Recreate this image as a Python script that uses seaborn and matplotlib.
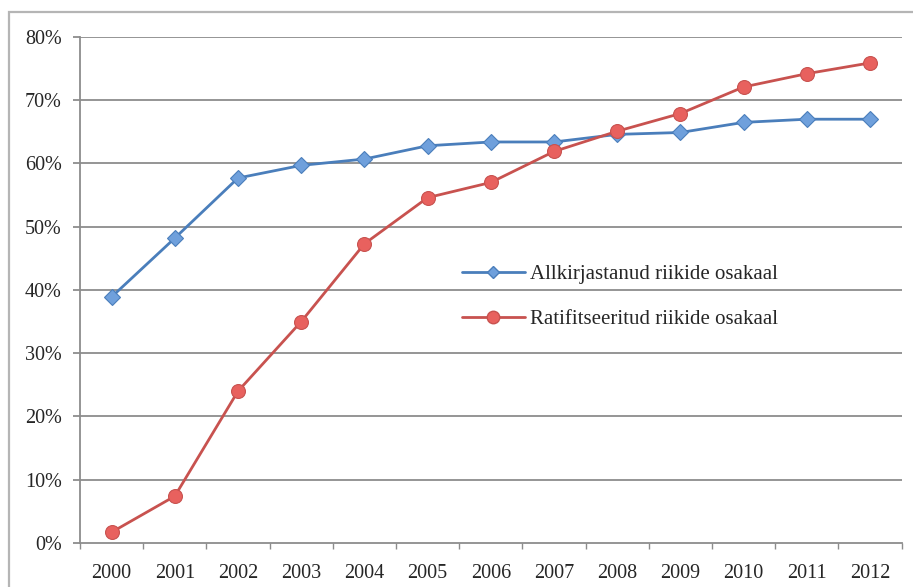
import matplotlib
matplotlib.use("Agg")
import matplotlib.pyplot as plt
from matplotlib.patches import Rectangle
from matplotlib.lines import Line2D
from matplotlib.ticker import FuncFormatter, MultipleLocator
import seaborn as sns
import pandas as pd

years = [2000, 2001, 2002, 2003, 2004, 2005, 2006, 2007, 2008, 2009, 2010, 2011, 2012]
signed_share = [38.9, 48.2, 57.7, 59.7, 60.7, 62.8, 63.4, 63.4, 64.6, 64.9, 66.5, 67.0, 67.0]
ratified_share = [1.7, 7.4, 24.0, 35.0, 47.3, 54.6, 57.0, 61.9, 65.1, 67.9, 72.1, 74.2, 75.9]
series_names = ["Allkirjastanud riikide osakaal", "Ratifitseeritud riikide osakaal"]

df = pd.DataFrame({
    "aasta": years * 2,
    "osakaal": signed_share + ratified_share,
    "seeria": [series_names[0]] * len(years) + [series_names[1]] * len(years),
})

sns.set_theme(style="white")
plt.rcParams["font.family"] = ["Liberation Serif", "DejaVu Serif"]

fig = plt.figure(figsize=(9.13, 5.87), dpi=100)
ax = fig.add_axes([0.0876, 0.075, 0.900, 0.862])

grid_col = "#8c8c8c"
text_col = "#262626"
for v in range(10, 90, 10):
    ax.axhline(v, color=grid_col, lw=1.3, zorder=0)

palette = {series_names[0]: "#4A7EBB", series_names[1]: "#C8524F"}
markers = {series_names[0]: "D", series_names[1]: "o"}
sns.lineplot(data=df, x="aasta", y="osakaal", hue="seeria", style="seeria",
             palette=palette, markers=markers, dashes=False, lw=2.0,
             markersize=8, ax=ax, legend=False)

face = {series_names[0]: "#6FA0DC", series_names[1]: "#E8615E"}
sizes = {series_names[0]: 8.5, series_names[1]: 10}
for line, name in zip(ax.lines[-2:], series_names):
    line.set_markerfacecolor(face[name])
    line.set_markeredgecolor(palette[name])
    line.set_markeredgewidth(0.8)
    line.set_markersize(sizes[name])

ax.set_xlim(1999.5, 2012.5)
ax.set_ylim(0, 80)
ax.set_xticks(years)
ax.set_xticklabels([str(y) for y in years])
ax.xaxis.set_minor_locator(MultipleLocator(1, offset=0.5))
ax.yaxis.set_major_locator(MultipleLocator(10))
ax.yaxis.set_major_formatter(FuncFormatter(lambda v, p: f"{int(v)}%"))
ax.set_xlabel("")
ax.set_ylabel("")

for s in ["top", "right"]:
    ax.spines[s].set_visible(False)
for s in ["left", "bottom"]:
    ax.spines[s].set_color(grid_col)
    ax.spines[s].set_linewidth(1.3)

ax.tick_params(axis="x", which="major", length=0, pad=15, labelsize=14.5, labelcolor=text_col)
ax.tick_params(axis="x", which="minor", length=4, width=1, color=grid_col, direction="out", bottom=True)
ax.tick_params(axis="y", which="major", length=5, width=1.3, color=grid_col, direction="out",
               left=True, pad=8, labelsize=14.5, labelcolor=text_col)

# frameless legend in the middle-right of the plot area
handles = [
    Line2D([], [], color=palette[series_names[0]], lw=2, marker="D", markersize=6,
           markerfacecolor=face[series_names[0]], markeredgecolor=palette[series_names[0]]),
    Line2D([], [], color=palette[series_names[1]], lw=2, marker="o", markersize=9,
           markerfacecolor=face[series_names[1]], markeredgecolor=palette[series_names[1]]),
]
leg = ax.legend(handles, series_names, loc="upper left", bbox_to_anchor=(0.465, 0.55),
                frameon=False, handlelength=3.0, handletextpad=0.25, labelspacing=1.2,
                fontsize=15, borderaxespad=0, borderpad=0)
for t in leg.get_texts():
    t.set_color(text_col)

fig.patches.append(Rectangle((9 / 913, -0.05), 1.2, 1 - 12 / 587 + 0.05,
                             transform=fig.transFigure, fill=False,
                             edgecolor="#b5b5b5", lw=1.6))

fig.savefig("out.png", dpi=100, facecolor="white")
